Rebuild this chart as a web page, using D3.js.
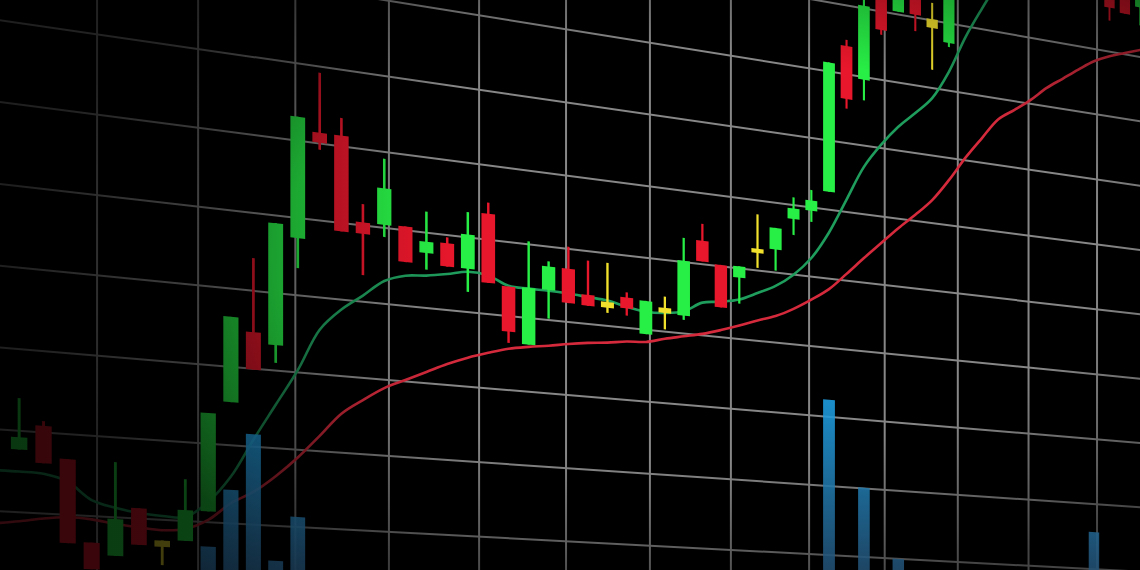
<!DOCTYPE html>
<html><head><meta charset="utf-8">
<script src="https://cdn.jsdelivr.net/npm/d3@7"></script>
<style>html,body{margin:0;padding:0;background:#000;overflow:hidden}</style>
</head><body><svg id="chart" width="1140" height="570"></svg>
<script>
// ---- data ----
const N9 = [null,null,null,null,null,null,null,null,null];
const candleOpen  = [null,107.7,110.8,106.9,96.7,95.2,101.3,97.4,97.5,101.4,115.5,124.7,123.3,137.4,151.4,151.4,140.4,140.4,140.5,137.3,138.9,135.8,143.5,134.0,126.4,134.1,137.3,134.0,133.3,134.2,129.4,133.3,132.5,143.3,140.2,138.7,143.1,143.3,148.0,149.5,152.6,174.1,169.6,184.0,180.4,184.0,180.2,177.1, ...N9, 189.0,189.5,187.7];
const candleHigh  = [null,114.0,111.4,106.9,96.7,106.9,101.3,97.4,105.3,113.9,126.4,134.2,139.0,153.1,159.2,153.7,142.8,149.1,140.5,142.8,139.7,143.4,145.0,134.0,140.4,138.0,140.3,138.7,138.7,134.9,134.0,134.9,143.4,145.7,140.2,140.3,148.0,146.4,151.1,152.5,171.3,175.0,182.0,185.0,186.0,185.0,182.6,186.0, ...N9, 190.0,190.0,191.0];
const candleLow   = [null,107.7,106.2,96.5,93.4,95.2,96.7,94.3,97.5,101.4,115.5,119.9,121.0,133.5,149.2,138.9,133.5,138.8,135.8,135.1,135.8,132.7,134.2,126.4,126.4,130.2,132.6,132.5,131.8,131.7,129.4,130.3,131.9,140.4,134.2,135.0,140.4,140.3,145.7,147.9,152.6,165.0,166.6,176.6,180.4,178.0,172.7,176.5, ...N9, 184.8,186.3,184.9];
const candleClose = [null,109.2,106.2,96.5,93.4,99.8,96.7,96.6,101.4,113.9,126.4,119.9,139.0,153.1,150.1,138.9,138.9,145.2,135.8,138.8,135.8,140.4,134.2,127.9,134.1,137.3,132.6,132.5,132.5,132.7,134.0,132.6,140.2,140.4,134.2,140.3,142.5,146.4,149.5,151.0,171.3,166.4,180.4,177.3,185.0,180.4,178.9,185.5, ...N9, 186.8,186.3,190.0];
// u = rising, d = falling, n = neutral (doji)
const candleKind  = [null,'u','d','d','d','u','d','n','u','u','u','d','u','u','d','d','d','u','d','u','d','u','d','d','u','u','d','d','n','d','u','n','u','d','d','u','n','u','u','u','u','d','u','d','u','d','n','u', ...N9, 'd','d','u'];
const maFast = [105.0,105.0,104.9,104.1,102.0,101.2,100.7,100.5,100.5,102.6,106.0,110.9,115.6,120.3,125.8,128.7,130.8,133.0,134.0,134.3,134.8,135.4,135.2,134.1,134.0,134.0,133.9,133.7,133.5,132.9,132.5,132.6,133.1,134.6,135.0,135.6,136.8,138.1,140.0,142.7,146.7,151.8,156.9,160.5,163.5,165.9,168.5,172.8,178.4,183.1,187.5];
const maSlow = [98.5,98.9,99.4,99.7,99.6,99.2,98.9,98.7,99.0,100.3,102.6,104.2,106.4,109.0,112.0,115.1,117.1,118.9,120.2,121.5,122.8,123.9,124.8,125.6,126.1,126.5,127.0,127.4,127.7,128.1,128.3,129.0,129.6,130.2,131.0,131.9,132.9,133.8,135.1,136.7,138.5,141.0,143.6,146.1,148.6,150.9,153.4,156.7,160.4,163.7,166.9,168.7,170.6,172.8,174.6,176.4,178.1,179.3,180.2,181.1];
const volumeAt    = [9,10,11,12,13,40,42,44,56];
const volumeValue = [11900,19300,26600,10500,16300,37500,25100,15000,20700];
const priceGrid = [80,90,100,110,120,130,140,150,160,170,180,190,200];
const timeGrid  = [-1,0,1,2,3,4,5,6,7,8,9,10,11,12,13];

// ---- scales & perspective ----
const W = 1140, H = 570;
const XV = 5325, YV = 793;                // vanishing point of the chart plane
const uScale = d3.scaleLinear().domain([0, 1]).range([-0.9759, -0.9759 + 0.2309]); // candle index -> grid column
const hScale = d3.scaleLinear().domain([100, 110]).range([-0.0529, -0.06827]);      // price -> plane height
const vScale = d3.scaleLinear().domain([0, 10000]).range([85, 95]);                  // volume -> price units
function proj(u, p) {
  const d = 1 / (1.9128e-4 + 3.77e-6 * u);
  return [XV - d, YV + hScale(p) * d];
}
const polyPts = pts => pts.map(p => p.join(',')).join(' ');

const svg = d3.select('#chart');
svg.append('rect').attr('width', W).attr('height', H).attr('fill', '#000');
const defs = svg.append('defs');

const volGrad = defs.append('linearGradient').attr('id', 'volGrad')
  .attr('gradientUnits', 'userSpaceOnUse').attr('x1', 0).attr('x2', 0).attr('y1', 390).attr('y2', 570);
volGrad.append('stop').attr('offset', 0).attr('stop-color', '#1ea6ec');
volGrad.append('stop').attr('offset', 1).attr('stop-color', '#224f72');

const leftFade = defs.append('linearGradient').attr('id', 'leftFade').attr('x1', 0).attr('x2', 1).attr('y1', 0).attr('y2', 0);
[[0, 0.55], [0.18, 0.44], [0.27, 0.28], [0.35, 0.08], [0.4, 0]].forEach(([o, a]) =>
  leftFade.append('stop').attr('offset', o).attr('stop-color', '#000').attr('stop-opacity', a));
const edgeFade = defs.append('radialGradient').attr('id', 'edgeFade')
  .attr('cx', 0.6).attr('cy', 0.45).attr('r', 0.6);
[[0, 0], [0.6, 0], [0.85, 0.3], [1, 0.5]].forEach(([o, a]) =>
  edgeFade.append('stop').attr('offset', o).attr('stop-color', '#000').attr('stop-opacity', a));

const plot = svg.append('g');

// grid
const grid = plot.append('g').attr('stroke', '#878787').attr('stroke-width', 2).attr('fill', 'none');
grid.selectAll('line.v').data(timeGrid).join('line').attr('class', 'v')
  .attr('x1', k => proj(k, 60)[0]).attr('y1', k => proj(k, 60)[1])
  .attr('x2', k => proj(k, 230)[0]).attr('y2', k => proj(k, 230)[1]);
grid.selectAll('line.h').data(priceGrid).join('line').attr('class', 'h')
  .attr('x1', p => proj(-2, p)[0]).attr('y1', p => proj(-2, p)[1])
  .attr('x2', p => proj(14, p)[0]).attr('y2', p => proj(14, p)[1]);

// moving averages
const maLine = arr => d3.line().defined(d => d != null)
  .x((d, i) => proj(uScale(i), d)[0]).y((d, i) => proj(uScale(i), d)[1])
  .curve(d3.curveCatmullRom.alpha(0.5))(arr);
plot.append('path').attr('d', maLine(maSlow)).attr('fill', 'none').attr('stroke', '#d42a3c').attr('stroke-width', 2.6);
plot.append('path').attr('d', maLine(maFast)).attr('fill', 'none').attr('stroke', '#1f9d5c').attr('stroke-width', 2.6);

// candles
const bw = 0.155 / 2;
const kindColor = { u: '#28ef46', d: '#e8172b', n: '#f2e12c' };
const candles = candleOpen.map((o, i) => ({ i, o, h: candleHigh[i], l: candleLow[i], c: candleClose[i], k: candleKind[i] }))
  .filter(d => d.o != null);
const cg = plot.append('g');
const ww = 0.014;
cg.selectAll('polygon.wick').data(candles).join('polygon').attr('class', 'wick')
  .attr('fill', d => kindColor[d.k])
  .attr('points', d => {
    const u = uScale(d.i);
    return polyPts([proj(u - ww, d.l), proj(u + ww, d.l), proj(u + ww, d.h), proj(u - ww, d.h)]);
  });
cg.selectAll('polygon.body').data(candles).join('polygon').attr('class', 'body')
  .attr('fill', d => kindColor[d.k])
  .attr('points', d => {
    const u = uScale(d.i);
    return polyPts([proj(u - bw, d.o), proj(u + bw, d.o), proj(u + bw, d.c), proj(u - bw, d.c)]);
  });

// lighting falloff of the photographed screen
svg.append('rect').attr('width', W).attr('height', H).attr('fill', 'url(#edgeFade)');

// volume bars (lit separately, only the left falloff applies)
svg.append('g').selectAll('polygon').data(volumeAt.map((i, k) => ({ i, v: volumeValue[k] }))).join('polygon')
  .attr('fill', 'url(#volGrad)').attr('opacity', 0.88)
  .attr('points', d => {
    const u = uScale(d.i), top = vScale(d.v), base = vScale(0);
    return polyPts([proj(u - bw, base), proj(u + bw, base), proj(u + bw, top), proj(u - bw, top)]);
  });

svg.append('rect').attr('width', W).attr('height', H).attr('fill', 'url(#leftFade)');
</script>
</body></html>
